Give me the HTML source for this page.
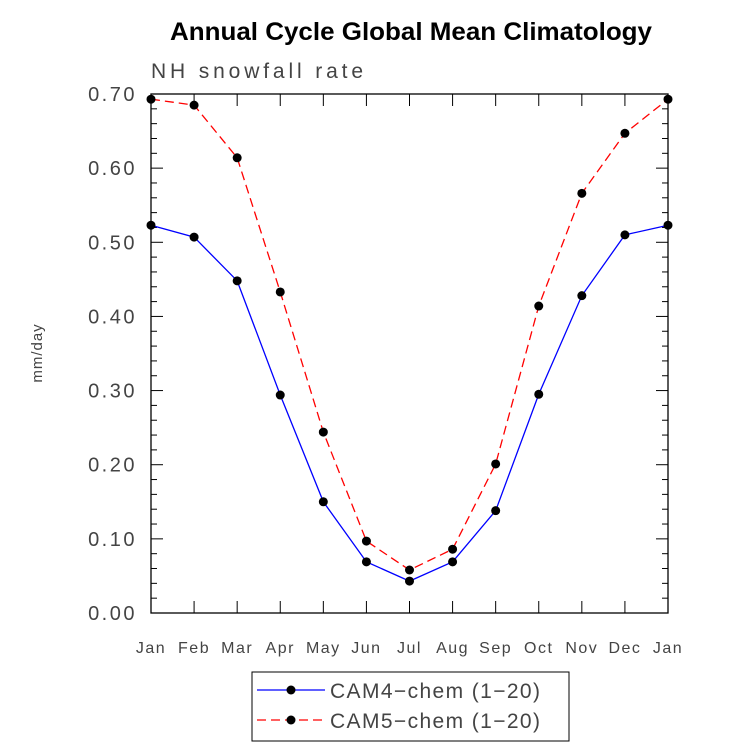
<!DOCTYPE html>
<html><head><meta charset="utf-8"><style>
body{margin:0;background:#fff;width:733px;height:748px;overflow:hidden}
svg{font-family:"Liberation Sans",sans-serif}
</style></head><body>
<svg id="chart" width="733" height="748" xmlns="http://www.w3.org/2000/svg">
<text x="411" y="40" text-anchor="middle" font-size="25" font-weight="bold" textLength="482" lengthAdjust="spacingAndGlyphs">Annual Cycle Global Mean Climatology</text>
<text x="151" y="78" font-size="21" fill="#444" textLength="212" lengthAdjust="spacing" font-weight="300">NH snowfall rate</text>
<text transform="translate(42,353) rotate(-90)" text-anchor="middle" font-size="15" fill="#444" letter-spacing="1">mm/day</text>
<g id="axes"></g>
<g id="series"></g>
<g id="legend">
<rect x="252" y="672" width="317" height="69" fill="#fff" stroke="#000" stroke-width="1"/>
<g>
<line x1="257" y1="690" x2="325" y2="690" stroke="#0000ff" stroke-width="1.2"/>
<circle cx="291" cy="690" r="4.5" fill="#000"/>
<text x="330" y="698" font-size="21" fill="#444" textLength="210" lengthAdjust="spacing">CAM4−chem (1−20)</text></g>
<g>
<line x1="257" y1="720" x2="325" y2="720" stroke="#ff0000" stroke-width="1.2" stroke-dasharray="9,5"/>
<circle cx="291" cy="720" r="4.5" fill="#000"/>
<text x="330" y="728" font-size="21" fill="#444" textLength="210" lengthAdjust="spacing">CAM5−chem (1−20)</text></g>
</g>
</svg>
<script>
const months=["Jan","Feb","Mar","Apr","May","Jun","Jul","Aug","Sep","Oct","Nov","Dec","Jan"];
const cam4=[0.523,0.507,0.448,0.294,0.150,0.069,0.043,0.069,0.138,0.295,0.428,0.510,0.523];
const cam5=[0.693,0.685,0.614,0.433,0.244,0.097,0.058,0.086,0.201,0.414,0.566,0.647,0.693];
const yTicks=["0.00","0.10","0.20","0.30","0.40","0.50","0.60","0.70"];
const L=151,R=668,T=94,B=613,ymax=0.7;
const NS="http://www.w3.org/2000/svg";
function xs(i){return L+(R-L)*i/(months.length-1);}
function ys(v){return B-(B-T)*v/ymax;}
function mk(tag,attrs,parent){const e=document.createElementNS(NS,tag);for(const k in attrs)e.setAttribute(k,attrs[k]);parent.appendChild(e);return e;}
const ax=document.getElementById('axes');
const frame=mk('rect',{x:L,y:T,width:R-L,height:B-T,fill:'none',stroke:'#000','stroke-width':1.3},ax);


for(let i=0;i<=35;i++){const v=i*0.02;const y=ys(v);const len=(i%5===0)?12:6;
mk('line',{x1:L,y1:y,x2:L+len,y2:y,stroke:'#000'},ax);
mk('line',{x1:R,y1:y,x2:R-len,y2:y,stroke:'#000'},ax);}
yTicks.forEach((t,i)=>{const e=mk('text',{x:137,y:ys(parseFloat(t))+7,'text-anchor':'end','font-size':20,fill:'#444','letter-spacing':'2.5'},ax);e.textContent=t;

});
months.forEach((m,i)=>{const x=xs(i);
mk('line',{x1:x,y1:B,x2:x,y2:B-12,stroke:'#000'},ax);
mk('line',{x1:x,y1:T,x2:x,y2:T+12,stroke:'#000'},ax);
const e=mk('text',{x:x,y:B+40,'text-anchor':'middle','font-size':16,fill:'#444','letter-spacing':'1.5'},ax);e.textContent=m;

});
const sg=document.getElementById('series');
function draw(vals,color,dash,name){
const g=mk('g',{},sg);


const pts=vals.map((v,i)=>xs(i)+','+ys(v)).join(' ');
const attrs={points:pts,fill:'none',stroke:color,'stroke-width':1.3};if(dash)attrs['stroke-dasharray']=dash;
mk('polyline',attrs,g);
vals.forEach((v,i)=>{const c=mk('circle',{cx:xs(i),cy:ys(v),r:4.5,fill:'#000'},g);

});}
draw(cam4,'#0000ff',null,'series-cam4');
draw(cam5,'#ff0000','9,5','series-cam5');
</script>
</body></html>
